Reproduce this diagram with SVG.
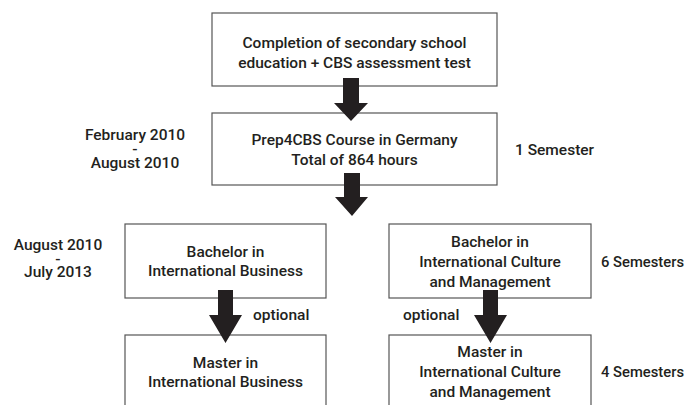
<svg xmlns="http://www.w3.org/2000/svg" width="687" height="405" viewBox="0 0 687 405">
<style>
  .box { fill: #ffffff; stroke: #555555; stroke-width: 1.2; }
  .t { font-family: Roboto, "Liberation Sans", Arial, sans-serif; font-size: 15.5px; font-weight: 500; fill: #231f20; }
  .c { text-anchor: middle; }
  .arrow { fill: #231f20; }
</style>
<rect width="687" height="405" fill="#ffffff"/>

<g id="node-completion">
  <rect class="box" x="212" y="13" width="285" height="73"/>
  <text class="t c" x="354.5" y="48">Completion of secondary school</text>
  <text class="t c" x="354.5" y="68">education + CBS assessment test</text>
</g>

<g id="node-prep">
  <rect class="box" x="212" y="113" width="285" height="72"/>
  <text class="t c" x="354.5" y="145">Prep4CBS Course in Germany</text>
  <text class="t c" x="354.5" y="165">Total of 864 hours</text>
</g>

<g id="node-bachelor-ib">
  <rect class="box" x="125" y="224" width="201" height="74"/>
  <text class="t c" x="225.5" y="257">Bachelor in</text>
  <text class="t c" x="225.5" y="276">International Business</text>
</g>

<g id="node-bachelor-icm">
  <rect class="box" x="389" y="224" width="202" height="74"/>
  <text class="t c" x="490" y="247">Bachelor in</text>
  <text class="t c" x="490" y="267">International Culture</text>
  <text class="t c" x="490" y="287">and Management</text>
</g>

<g id="node-master-ib">
  <rect class="box" x="125" y="335" width="201" height="80"/>
  <text class="t c" x="225.5" y="368">Master in</text>
  <text class="t c" x="225.5" y="387">International Business</text>
</g>

<g id="node-master-icm">
  <rect class="box" x="389" y="335" width="202" height="80"/>
  <text class="t c" x="490" y="357">Master in</text>
  <text class="t c" x="490" y="377">International Culture</text>
  <text class="t c" x="490" y="397">and Management</text>
</g>

<g id="labels">
  <text class="t c" x="135" y="140">February 2010</text>
  <text class="t c" x="135" y="154">-</text>
  <text class="t c" x="135" y="168">August 2010</text>
  <text class="t" x="515" y="155">1 Semester</text>
  <text class="t c" x="58" y="250">August 2010</text>
  <text class="t c" x="58" y="263.5">-</text>
  <text class="t c" x="58" y="277">July 2013</text>
  <text class="t" x="601" y="267" textLength="83" lengthAdjust="spacingAndGlyphs">6 Semesters</text>
  <text class="t" x="601" y="377" textLength="83" lengthAdjust="spacingAndGlyphs">4 Semesters</text>
  <text class="t" x="253" y="320">optional</text>
  <text class="t" x="403" y="320">optional</text>
</g>

<g id="connectors">
  <polygon class="arrow" points="343,78 359,78 359,103 368,103 351,121 334,103 343,103"/>
  <polygon class="arrow" points="344,173 360,173 360,197 368,197 352,216 335,197 344,197"/>
  <polygon class="arrow" points="218,290 233,290 233,315 242,315 225.5,343 209,315 218,315"/>
  <polygon class="arrow" points="483,290 498,290 498,315 507,315 490.5,343 474,315 483,315"/>
</g>
</svg>
